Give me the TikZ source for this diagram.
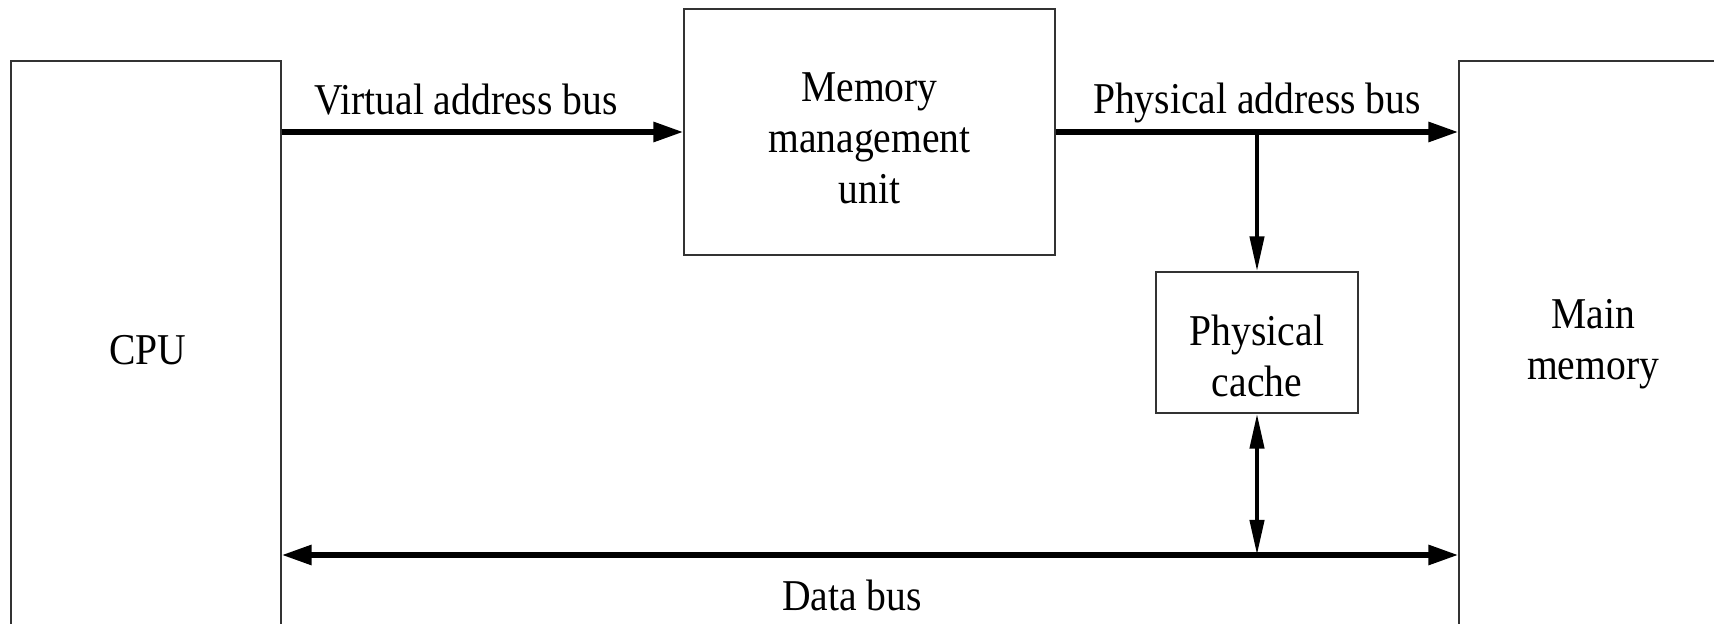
\documentclass[tikz,border=0pt]{standalone}
\usepackage{fontspec}
\setmainfont{Liberation Serif}[FakeStretch=0.9]
\usetikzlibrary{arrows.meta}
\begin{document}
\begin{tikzpicture}[x=0.5pt,y=-0.5pt,
  font=\fontsize{22}{25.5}\selectfont,
  box/.style={draw=black!80, line width=0.6pt, inner sep=0pt, align=center},
  htip/.style={Triangle[length=15pt,width=9.5pt]},
  vtip/.style={Triangle[length=17.5pt,width=7pt]},
  bus/.style={line width=2.9pt, -{Triangle[length=15pt,width=9.5pt]}},
  dbus/.style={line width=2.9pt, {Triangle[length=15pt,width=9.5pt]}-{Triangle[length=15pt,width=9.5pt]}},
  vbus/.style={line width=2.1pt, -{Triangle[length=17.5pt,width=7pt]}},
  vdbus/.style={line width=2.1pt, {Triangle[length=17.5pt,width=7pt]}-{Triangle[length=17.5pt,width=7pt]}},
  lab/.style={anchor=base, inner sep=0pt}]
\useasboundingbox (0,0) rectangle (1714,624);
\clip (0,0) rectangle (1714,624);
% boxes
\node[box, minimum width=135pt, minimum height=289pt] (cpu) at (146,350) {\hspace*{2pt}CPU};
\node[box, minimum width=134pt, minimum height=319.5pt,
      label={[name=memtext, align=center, yshift=18.2pt]center:Main\\memory}] (mem) at (1593,380.5) {};
\node[box, minimum width=185.5pt, minimum height=123pt,
      label={[name=mmutext, align=center, yshift=-3.2pt]center:Memory\\management\\unit}] (mmu) at (869.5,132) {};
\node[box, minimum width=101pt, minimum height=70.5pt,
      label={[name=cachetext, align=center, yshift=-6.5pt]center:Physical\\cache}] (cache) at (1257,342.5) {};
% junction coordinates
\coordinate (jt) at (cache.north |- mmu.east);
\coordinate (db) at (1257,555);
% connectors
\draw[bus] (cpu.east |- mmu.west) -- (mmu.west);
\draw[bus] (mmu.east) -- (mmu.east -| mem.west);
\draw[vbus] (jt) -- (cache.north);
\draw[dbus] (cpu.east |- db) -- (mem.west |- db);
\draw[vdbus] (cache.south) -- (db);
% labels
\node[lab] (vlab) at (466,115) {Virtual address bus};
\node[lab] (plab) at (1257,114) {Physical address bus};
\node[lab] (dlab) at (852,611) {Data bus};
\end{tikzpicture}
\end{document}
